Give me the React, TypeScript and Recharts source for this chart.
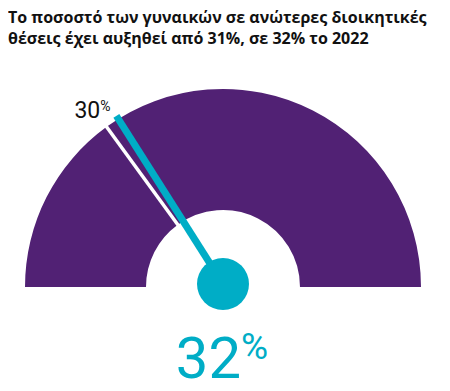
import { PieChart, Pie, Cell } from "recharts";

// title lines
const titleLines = [
  "Το ποσοστό των γυναικών σε ανώτερες διοικητικές",
  "θέσεις έχει αυξηθεί από 31%, σε 32% το 2022",
];

// gauge segments (split at the 30% marker)
const segmentNames = ["έως 30%", "πάνω από 30%"];
const segmentValues = [30, 70];

const markerValue = 30;
const needleValue = 32;

const PURPLE = "#512174";
const TEAL = "#00adc6";

const W = 450;
const H = 391;
const CX = 223;
const CY = 287;
const INNER = 77;
const OUTER = 198;
const START = 180;
const END = 0;

const data = segmentNames.map((name, i) => ({ name, value: segmentValues[i] }));
const total = segmentValues.reduce((a, b) => a + b, 0);

function polar(value: number, r: number, cy = CY) {
  const ang = ((START + ((END - START) * value) / total) * Math.PI) / 180;
  return { x: CX + r * Math.cos(ang), y: cy - r * Math.sin(ang) };
}

export default function App() {
  const pivotY = CY - 3;
  const dIn = polar(markerValue, INNER - 2);
  const dOut = polar(markerValue, OUTER + 2);
  const nEnd = polar(needleValue, OUTER + 1, pivotY);
  const lbl = polar(markerValue, 210);

  return (
    <div style={{ margin: -8, width: W, height: H, background: "#fff", position: "relative" }}>
      <PieChart width={W} height={H} margin={{ top: 0, right: 0, bottom: 0, left: 0 }}>
        <Pie
          data={data}
          dataKey="value"
          cx={CX}
          cy={CY}
          innerRadius={INNER}
          outerRadius={OUTER}
          startAngle={START}
          endAngle={END}
          stroke="none"
          isAnimationActive={false}
        >
          {data.map((entry, index) => (
            <Cell key={`cell-${index}`} fill={PURPLE} />
          ))}
        </Pie>
      </PieChart>
      {/* overlay: title, marker, needle and value text */}
      <svg
        width={W}
        height={H}
        style={{ position: "absolute", left: 0, top: 0, pointerEvents: "none" }}
      >
        <text x={8} y={23} fontFamily="'Open Sans', sans-serif" fontWeight={700} fontSize={16} fill="#111">
          {titleLines[0]}
        </text>
        <text x={8} y={44} fontFamily="'Open Sans', sans-serif" fontWeight={700} fontSize={16} fill="#111">
          {titleLines[1]}
        </text>
        <line x1={dIn.x} y1={dIn.y} x2={dOut.x} y2={dOut.y} stroke="#fff" strokeWidth={3.5} />
        <line x1={CX} y1={pivotY} x2={nEnd.x} y2={nEnd.y} stroke={TEAL} strokeWidth={7} />
        <circle cx={CX} cy={pivotY} r={26} fill={TEAL} />
        <text x={lbl.x + 11} y={lbl.y + 1} textAnchor="end" fontFamily="Roboto, sans-serif" fill="#111">
          <tspan fontSize={23}>{markerValue}</tspan>
          <tspan fontSize={14} dy={-7}>%</tspan>
        </text>
        <text x={CX - 1} y={378} textAnchor="middle" fontFamily="Roboto, sans-serif" fill={TEAL}>
          <tspan fontSize={58}>{needleValue}</tspan>
          <tspan fontSize={37} dy={-19}>%</tspan>
        </text>
      </svg>
    </div>
  );
}
